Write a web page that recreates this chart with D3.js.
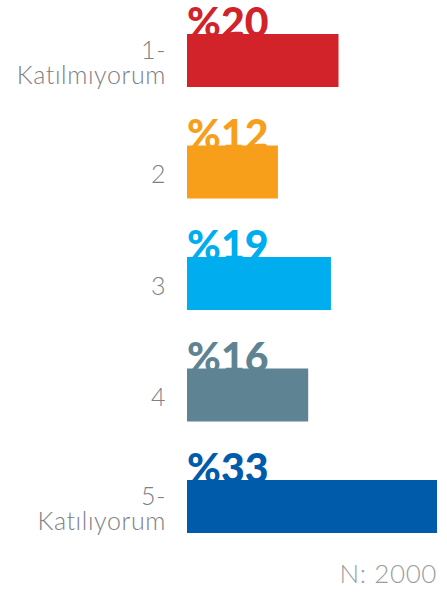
<!DOCTYPE html>
<html><head><meta charset="utf-8">
<script src="https://cdn.jsdelivr.net/npm/d3@7"></script>
<style>html,body{margin:0;padding:0;background:#fff;}</style>
</head><body>
<script>
const categories = [["1-","Katılmıyorum"],["2"],["3"],["4"],["5-","Katılıyorum"]];
const values = [20, 12, 19, 16, 33];
const valueLabels = ["%20","%12","%19","%16","%33"];
const colors = ["#d2232a","#f79e1b","#00aeef","#5e8494","#005baa"];
const note = "N: 2000";

const W = 447, H = 594;
const svg = d3.select("body").append("svg").attr("width", W).attr("height", H);

const x = d3.scaleLinear().domain([0, 33]).range([187, 437]);
const y = d3.scaleBand().domain(d3.range(values.length)).range([0, 567]).paddingInner(0.5247).paddingOuter(0.305);

const g = svg.append("g");
g.selectAll("text.val").data(values).join("text")
  .attr("class","val")
  .attr("x", x(0))
  .attr("y", (d,i) => y(i) + 3)
  .attr("fill", (d,i) => colors[i])
  .style("font-family","Lato, 'Open Sans', sans-serif")
  .style("font-weight","900")
  .style("font-size","41px")
  .text((d,i) => valueLabels[i]);

g.selectAll("rect").data(values).join("rect")
  .attr("x", x(0))
  .attr("y", (d,i) => y(i))
  .attr("width", d => x(d) - x(0))
  .attr("height", y.bandwidth())
  .attr("fill", (d,i) => colors[i]);

const lineH = 25;
categories.forEach((lines, i) => {
  const cy = y(i) + y.bandwidth()/2;
  const t = svg.append("text")
    .attr("text-anchor","end")
    .attr("fill","#7d8084")
    .style("font-family","Lato, sans-serif")
    .style("font-weight","300")
    .style("font-size","25px")
    .style("letter-spacing","0.6px");
  lines.forEach((ln, k) => {
    t.append("tspan").attr("x", 166)
      .attr("y", cy + 11 + (k - (lines.length-1)/2) * lineH)
      .text(ln);
  });
});

svg.append("text")
  .attr("x", 437).attr("y", 583)
  .attr("text-anchor","end")
  .attr("fill","#9a9ea2")
  .style("font-family","Lato, sans-serif")
  .style("font-weight","300")
  .style("font-size","26px")
  .style("letter-spacing","0.6px")
  .text(note);
</script>
</body></html>
